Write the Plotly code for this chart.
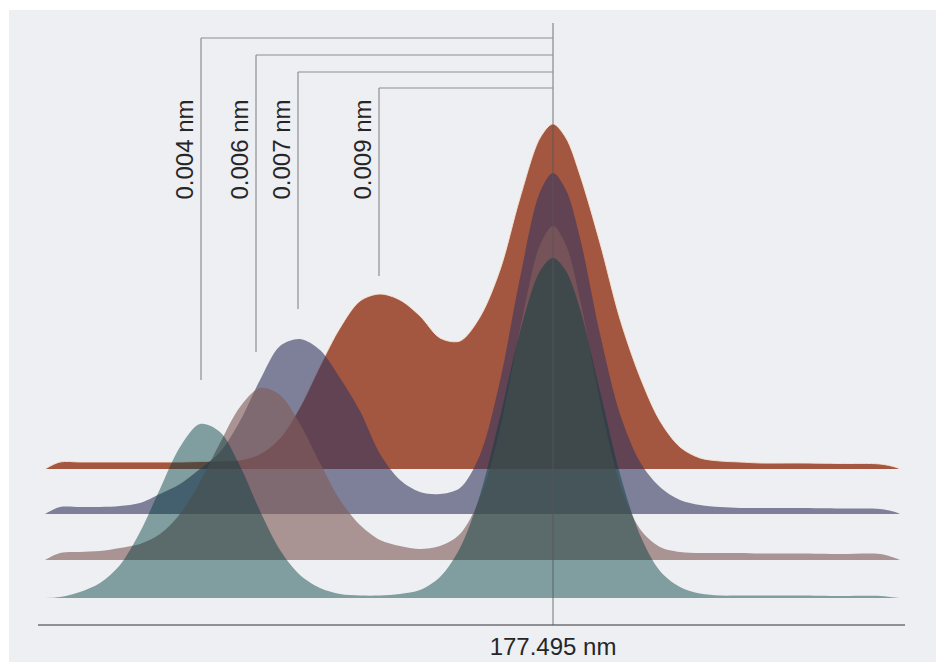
import plotly.graph_objects as go

# ---------------- data ----------------
LINE_CENTER_NM = 177.495
# wavelength offsets from the line centre (nm)
DELTA_NM = [-0.0508, -0.0493, -0.0473, -0.0453, -0.0433, -0.0413, -0.0393, -0.0373,
            -0.0353, -0.0333, -0.0313, -0.0293, -0.0273, -0.0253, -0.0233, -0.0213,
            -0.0193, -0.0173, -0.0153, -0.0133, -0.0113, -0.0093, -0.0073, -0.0053,
            -0.0033, -0.0013, 0.0, 0.0013, 0.0027, 0.0047, 0.0067, 0.0087, 0.0107,
            0.0127, 0.0147, 0.0167, 0.0187, 0.0207, 0.0247, 0.0287, 0.0327, 0.0342, 0.0347]

# intensities (arbitrary units) of the four spectra, back row to front row
INT_009 = [0, 7, 7, 7, 7, 7, 7, 7, 7.5, 8, 9, 15, 31, 62, 103, 141, 168, 175, 169, 153,
           131, 128, 152, 199, 271, 331, 345, 331, 294, 226, 150, 92, 48, 22, 11, 8, 7,
           6, 6, 5.5, 5, 2, 0]
INT_007 = [0, 7, 7, 7, 8, 11, 20, 30, 45, 62, 93, 134, 168, 175, 164, 136, 103, 60, 34,
           22, 20, 26, 59, 133, 236, 322, 341, 324, 276, 180, 100, 52, 27, 14, 9, 7, 6,
           6, 6, 5.5, 5, 2, 0]
INT_006 = [0, 7, 8, 9, 12, 16, 26, 46, 78, 117, 153, 172, 165, 136, 97, 60, 35, 20, 14,
           11, 14, 26, 62, 131, 231, 315, 334, 315, 261, 159, 76, 31, 13, 8, 7, 7, 7,
           6.5, 6.5, 6, 6, 2, 0]
INT_004 = [0, 1, 6, 15, 33, 66, 109, 151, 174, 166, 132, 87, 48, 23, 10, 4, 2.5, 2.5,
           4, 8, 21, 50, 103, 181, 266, 327, 340, 327, 289, 207, 124, 63, 27, 11, 4.5,
           2.5, 2.5, 2.5, 2.5, 2, 2, 0.5, 0]

SERIES = [INT_009, INT_007, INT_006, INT_004]
RESOLUTION_LABELS = ["0.009 nm", "0.007 nm", "0.006 nm", "0.004 nm"]
# ridge offsets of each spectrum (same units as intensity)
RIDGE_OFFSET = [156, 111, 65, 27]
# position of the secondary (left) peak of each spectrum, offset from line centre (nm)
SECOND_PEAK_NM = [-0.0174, -0.0255, -0.0297, -0.0352]
TICK_LABEL = "177.495 nm"

# ---------------- style ----------------
FILLS = ["rgb(163,86,64)", "rgba(55,55,95,0.61)", "rgba(130,94,92,0.63)", "rgba(0,62,60,0.46)"]
EDGES = ["rgba(250,228,210,0.9)", "rgba(0,0,0,0)", "rgba(0,0,0,0)", "rgba(0,0,0,0)"]
BRACKET_TOP = [537, 553, 570, 587]
BRACKET_BOTTOM = [349, 316, 273, 245]
CENTER_LINE_TOP = 602

W, H = 936, 660   # the page adds an 8 px body margin on the left/top

wl = [LINE_CENTER_NM + d for d in DELTA_NM]

fig = go.Figure()
for vals, base, fc, ec in zip(SERIES, RIDGE_OFFSET, FILLS, EDGES):
    fig.add_trace(go.Scatter(x=wl, y=[base] * len(wl), mode="lines",
                             line=dict(width=0, color="rgba(0,0,0,0)"),
                             hoverinfo="skip", showlegend=False))
    fig.add_trace(go.Scatter(x=wl, y=[base + v for v in vals], mode="lines",
                             line=dict(width=1, color=ec, shape="spline", smoothing=0.9),
                             fill="tonexty", fillcolor=fc,
                             hoverinfo="skip", showlegend=False))

shapes = []
# grey panel
shapes.append(dict(type="rect", xref="paper", yref="paper", x0=1 / W, x1=930 / W,
                   y0=6 / H, y1=658 / H, fillcolor="#edeff2", line=dict(width=0),
                   layer="below"))
# line-centre marker
shapes.append(dict(type="line", xref="x", yref="y", x0=LINE_CENTER_NM, x1=LINE_CENTER_NM,
                   y0=0, y1=CENTER_LINE_TOP, line=dict(color="rgba(85,85,90,0.8)", width=1),
                   layer="above"))
annotations = []
for pk, top, bot, lab in zip(SECOND_PEAK_NM, BRACKET_TOP, BRACKET_BOTTOM, RESOLUTION_LABELS):
    x = LINE_CENTER_NM + pk
    shapes.append(dict(type="line", xref="x", yref="y", x0=x, x1=LINE_CENTER_NM, y0=top, y1=top,
                       line=dict(color="#8e8e93", width=1.2), layer="above"))
    shapes.append(dict(type="line", xref="x", yref="y", x0=x, x1=x, y0=top, y1=bot,
                       line=dict(color="#8e8e93", width=1.2), layer="above"))
    annotations.append(dict(x=x - 0.00175, y=475, xref="x", yref="y", text=lab,
                            textangle=-90, showarrow=False, xanchor="center", yanchor="middle",
                            font=dict(family="Liberation Sans, Arial, sans-serif", size=24,
                                      color="#262626")))

fig.update_layout(
    width=W, height=H, autosize=False,
    margin=dict(l=0, r=0, t=0, b=0),
    paper_bgcolor="white", plot_bgcolor="rgba(0,0,0,0)",
    shapes=shapes, annotations=annotations,
    xaxis=dict(domain=[30 / W, 897 / W],
               range=[LINE_CENTER_NM - 0.0515, LINE_CENTER_NM + 0.0352],
               anchor="free", position=43 / H,
               showline=True, linecolor="#8f8f94", linewidth=1.6,
               showgrid=False, zeroline=False, ticks="",
               tickvals=[LINE_CENTER_NM], ticktext=[TICK_LABEL],
               tickfont=dict(family="Liberation Sans, Arial, sans-serif", size=24, color="#262626")),
    yaxis=dict(domain=[0, 1], range=[-43, 617], visible=False,
               showgrid=False, zeroline=False),
)

fig.write_html("out.html")
